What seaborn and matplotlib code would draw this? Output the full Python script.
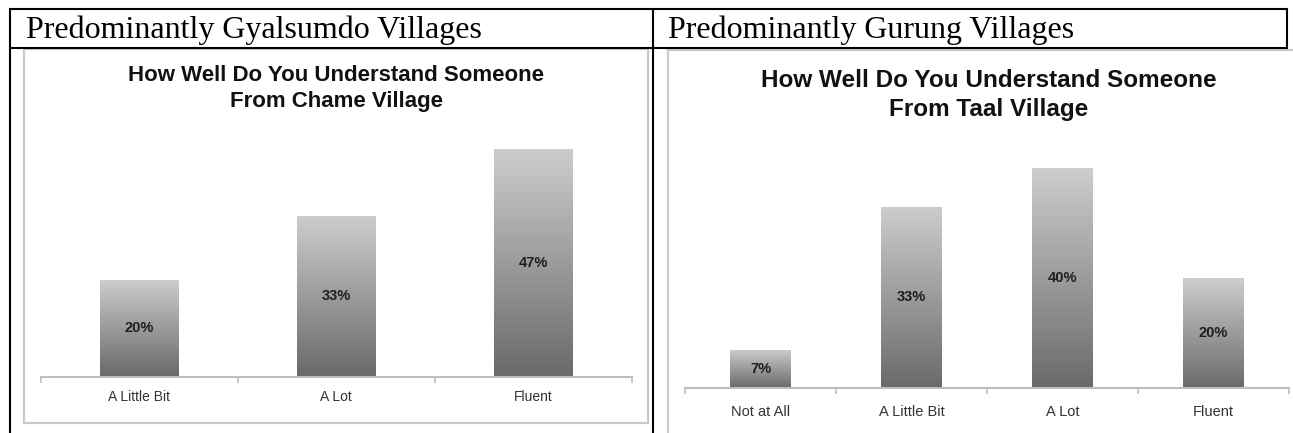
import numpy as np
import matplotlib
matplotlib.use("Agg")
import matplotlib.pyplot as plt
import seaborn as sns
from matplotlib.lines import Line2D
from matplotlib.patches import Rectangle
from matplotlib.colors import LinearSegmentedColormap

# ---- data ----
left_header = "Predominantly Gyalsumdo Villages"
right_header = "Predominantly Gurung Villages"
left_title = ["How Well Do You Understand Someone", "From Chame Village"]
right_title = ["How Well Do You Understand Someone", "From Taal Village"]
left_categories = ["A Little Bit", "A Lot", "Fluent"]
left_values = [20, 33, 47]
right_categories = ["Not at All", "A Little Bit", "A Lot", "Fluent"]
right_values = [7, 33, 40, 20]

W, H = 1293, 433
sns.set_theme(style="white")
plt.rcParams["font.family"] = ["Liberation Sans", "DejaVu Sans"]

fig = plt.figure(figsize=(W / 100, H / 100), dpi=100)


def fx(x):
    return x / W


def fy(y):
    return 1 - y / H


# screenshot frames of the two charts
for x0, y0, x1, y1 in [(24, 49, 648, 423), (668, 50, 1320, 445)]:
    fig.add_artist(Rectangle((fx(x0), fy(y1)), (x1 - x0) / W, (y1 - y0) / H,
                             transform=fig.transFigure, facecolor="white",
                             edgecolor="#c9c9c9", linewidth=1.6, zorder=0))

grad = np.linspace(0, 1, 256).reshape(-1, 1)
bar_cmap = LinearSegmentedColormap.from_list("bar", ["#6a6a6a", "#cdcdcd"])


def panel(rect, cats, vals, ymax, label_size, value_size, pad):
    ax = fig.add_axes(rect)
    sns.barplot(x=cats, y=vals, color="#999999", width=0.4, ax=ax, zorder=2)
    # vertical gradient inside every bar
    for p in ax.patches:
        x, y, w, h = p.get_x(), p.get_y(), p.get_width(), p.get_height()
        im = ax.imshow(grad, extent=(x, x + w, y, y + h), origin="lower",
                       cmap=bar_cmap, aspect="auto", zorder=2)
        im.set_clip_path(p)
        p.set_facecolor("none")
        p.set_edgecolor("none")
    for p, v in zip(ax.patches, vals):
        ax.text(p.get_x() + p.get_width() / 2, v / 2, f"{v}%", ha="center",
                va="center", fontsize=value_size, fontweight="bold",
                color="#1e1e1e", zorder=3)
    ax.set_xlim(-0.5, len(cats) - 0.5)
    ax.set_ylim(0, ymax)
    ax.set_facecolor("none")
    sns.despine(ax=ax, left=True)
    ax.spines["bottom"].set_color("#bdbdbd")
    ax.spines["bottom"].set_linewidth(1.5)
    ax.set_yticks([])
    ax.set_xticks(np.arange(-0.5, len(cats)), minor=True)
    ax.tick_params(axis="x", which="major", length=0, pad=pad,
                   labelsize=label_size, labelcolor="#333333")
    ax.tick_params(axis="x", which="minor", length=4, width=1.2,
                   color="#bdbdbd", bottom=True)
    ax.set_xlabel("")
    ax.set_ylabel("")
    return ax


panel([fx(40.5), fy(376.5), 591 / W, 242.5 / H], left_categories, left_values,
      50, 10, 10.5, 10)
panel([fx(685), fy(388), 604 / W, 247.5 / H], right_categories, right_values,
      45, 10.5, 10.5, 12)

# chart titles
for line, yb in zip(left_title, [81, 107]):
    fig.text(fx(336), fy(yb), line, ha="center", va="baseline", fontsize=16,
             fontweight="bold", color="#111111")
for line, yb in zip(right_title, [87, 116]):
    fig.text(fx(989), fy(yb), line, ha="center", va="baseline", fontsize=17.5,
             fontweight="bold", color="#111111")

# table headers
fig.text(fx(26), fy(38), left_header, ha="left", va="baseline", fontsize=23,
         family="Liberation Serif", color="black")
fig.text(fx(668), fy(38), right_header, ha="left", va="baseline", fontsize=23,
         family="Liberation Serif", color="black")

# table rules
rules = [((10, 9), (1287, 9)), ((10, 47.5), (1287, 47.5)),
         ((10, 9), (10, 433)), ((653, 9), (653, 433)), ((1287, 9), (1287, 47.5))]
for (xa, ya), (xb, yb) in rules:
    fig.add_artist(Line2D([fx(xa), fx(xb)], [fy(ya), fy(yb)], color="black",
                          linewidth=1.5, transform=fig.transFigure, zorder=5))

fig.savefig("out.png", dpi=100)
